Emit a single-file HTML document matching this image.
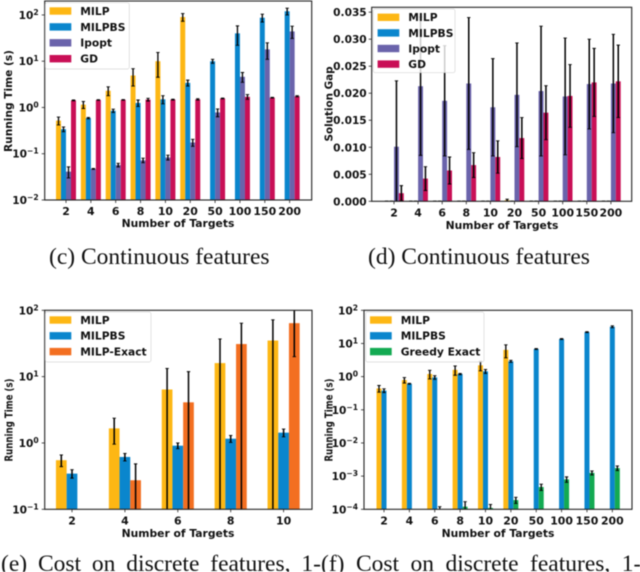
<!DOCTYPE html>
<html>
<head>
<meta charset="utf-8">
<style>
html,body{margin:0;padding:0;background:#fff;width:640px;height:572px;overflow:hidden}
svg{display:block;filter:blur(0.4px)}
.b{font-family:"DejaVu Sans","Liberation Sans",sans-serif;font-weight:bold;fill:#111}
.cap{font-family:"Liberation Serif",serif;font-size:23.5px;fill:#111}
</style>
</head>
<body>
<svg id="fig" xmlns="http://www.w3.org/2000/svg" width="640" height="572" viewBox="0 0 640 572">
<rect width="640" height="572" fill="#fff"/>
<text class="cap" x="49" y="264">(c) Continuous features</text>
<text class="cap" x="368" y="264">(d) Continuous features</text>
<text class="cap" x="1" y="571" word-spacing="5">(e) Cost on discrete features, 1-</text>
<text class="cap" x="321" y="571" word-spacing="5.6">(f) Cost on discrete features, 1-</text>
</svg>
<script>
var targetsLong = ['2','4','6','8','10','20','50','100','150','200'];
var targetsShort = ['2','4','6','8','10'];

var milpC = [0.52,1.15,2.3,4.9,10,90,null,null,null,null];
var milpErrC = [0.1,0.2,0.5,2,5.5,17,null,null,null,null];
var milpbsC = [0.34,0.59,0.85,1.25,1.5,3.4,10,40,87,120];
var milpbsErrC = [0.04,0.02,0.07,0.2,0.3,0.5,1,18,17,20];
var ipoptC = [0.041,0.047,0.057,0.072,0.083,0.175,0.78,4.6,18,44];
var ipoptErrC = [0.011,0.001,0.005,0.008,0.01,0.03,0.15,1.1,7,13];
var gdC = [1.42,1.45,1.46,1.48,1.48,1.5,1.57,1.7,1.63,1.75];
var gdErrC = [0.03,0.02,0.02,0.1,0.03,0.05,0.03,0.2,0.03,0.05];

var milpD = [0.00002,0.00002,0.00002,0.00002,0.00002,0.0002,0.00002,0.00002,0.00002,0.00002];
var milpErrD = [0.00002,0.00002,0.00002,0.00002,0.00002,0.0002,0.00002,0.00002,0.00002,0.00002];
var milpbsD = [0.00002,0.00002,0.00002,0.00002,0.00002,0.00002,0.00002,0.00002,0.00002,0.00002];
var milpbsErrD = [0.00002,0.00002,0.00002,0.00002,0.00002,0.00002,0.00002,0.00002,0.00002,0.00002];
var ipoptD = [0.0101,0.0213,0.0186,0.0218,0.0174,0.0197,0.0204,0.0194,0.0217,0.0218];
var ipoptErrD = [0.0122,0.0128,0.0102,0.0122,0.009,0.0096,0.012,0.0108,0.0083,0.0091];
var gdD = [0.0015,0.0042,0.0057,0.0067,0.0082,0.0117,0.0164,0.0195,0.022,0.0222];
var gdErrD = [0.0014,0.0022,0.0025,0.0023,0.003,0.0038,0.005,0.0058,0.0063,0.0067];

var milpE = [0.55,1.66,6.4,16,35];
var milpErrE = [0.11,0.7,6.9,21,37];
var milpbsE = [0.345,0.615,0.91,1.16,1.43];
var milpbsErrE = [0.05,0.08,0.09,0.14,0.19];
var exactE = [null,0.274,4.1,31,64];
var exactErrE = [null,0.21,7.8,33,44];

var milpF = [0.44,0.79,1.2,1.6,2.2,6.4,null,null,null,null];
var milpErrF = [0.1,0.15,0.35,0.5,0.7,2.7,null,null,null,null];
var milpbsF = [0.38,0.61,0.95,1.2,1.45,2.9,6.8,13.6,22,32];
var milpbsErrF = [0.05,0.02,0.12,0.05,0.2,0.2,0.2,0.4,0.6,2];
var greedyF = [null,null,0.00009,0.00012,0.00011,0.00019,0.00047,0.0008,0.00126,0.00175];
var greedyErrF = [null,null,0.00003,0.00005,0.00003,0.00004,0.0001,0.00015,0.00017,0.00028];

var decadesC = [-2,-1,0,1,2];
var ticksD = ['0.000','0.005','0.010','0.015','0.020','0.025','0.030','0.035'];
var decadesE = [-1,0,1,2];
var decadesF = [-4,-3,-2,-1,0,1,2];

var YELLOW = '#fdb714', BLUE = '#0a86cd', PURPLE = '#6a63ab', RED = '#c90f56', ORANGE = '#f36f21', GREEN = '#13aa52';
var fig = document.getElementById('fig');
var NS = 'http://www.w3.org/2000/svg';

function mk(tag, parent) {
  var el = document.createElementNS(NS, tag);
  parent.appendChild(el);
  return el;
}
function yScale(c, v) {
  if (c.log) {
    return c.bottom - (Math.log10(v) - Math.log10(c.dmin)) / (Math.log10(c.dmax) - Math.log10(c.dmin)) * (c.bottom - c.top);
  }
  return c.bottom - (v - c.dmin) / (c.dmax - c.dmin) * (c.bottom - c.top);
}
function xScale(c, i) {
  return c.x0 + i * c.step;
}
function line(g, x1, y1, x2, y2, color, w) {
  var l = mk('line', g);
  l.setAttribute('x1', x1);
  l.setAttribute('y1', y1);
  l.setAttribute('x2', x2);
  l.setAttribute('y2', y2);
  l.setAttribute('stroke', color);
  l.setAttribute('stroke-width', w);
  return l;
}
function drawChart(c) {
  var root = mk('g', fig);
  
  
  var clip = mk('clipPath', root);
  clip.setAttribute('id', 'clip-' + c.id);
  var cr = mk('rect', clip);
  cr.setAttribute('x', c.left);
  cr.setAttribute('y', c.top);
  cr.setAttribute('width', c.right - c.left);
  cr.setAttribute('height', c.bottom - c.top);

  var plot = mk('g', root);
  plot.setAttribute('clip-path', 'url(#clip-' + c.id + ')');
  var n = c.series.length;
  c.series.forEach(function (s, si) {
    var offset = (si - (n - 1) / 2) * c.barW;
    s.values.forEach(function (v, i) {
      if (v === null) return;
      var cx = xScale(c, i) + offset;
      var y = yScale(c, v);
      var bar = mk('rect', plot);
      
      
      bar.setAttribute('x', cx - c.barW / 2);
      bar.setAttribute('y', y);
      bar.setAttribute('width', c.barW);
      bar.setAttribute('height', Math.max(0, c.bottom - y));
      bar.setAttribute('fill', s.color);
    });
  });
  c.series.forEach(function (s, si) {
    var offset = (si - (n - 1) / 2) * c.barW;
    s.values.forEach(function (v, i) {
      if (v === null) return;
      var e = s.errs[i];
      var cx = xScale(c, i) + offset;
      var lo = v - e;
      var yLo = (c.log && lo <= 0) ? c.bottom + 5 : yScale(c, Math.max(lo, c.log ? 1e-12 : -1));
      var yHi = yScale(c, v + e);
      var g = mk('g', plot);
      
      
      line(g, cx, yLo, cx, yHi, '#000', c.errW);
      line(g, cx - 1.7, yHi, cx + 1.7, yHi, '#000', 0.9);
      line(g, cx - 1.7, yLo, cx + 1.7, yLo, '#000', 0.9);
    });
  });

  var axes = mk('g', root);
  
  
  var frame = mk('rect', axes);
  
  
  frame.setAttribute('x', c.left);
  frame.setAttribute('y', c.top);
  frame.setAttribute('width', c.right - c.left);
  frame.setAttribute('height', c.bottom - c.top);
  frame.setAttribute('fill', 'none');
  frame.setAttribute('stroke', '#222');
  frame.setAttribute('stroke-width', '1.1');

  c.labels.forEach(function (lab, i) {
    var x = xScale(c, i);
    line(axes, x, c.bottom, x, c.bottom + 3, '#222', 0.8);
    var t = mk('text', axes);
    
    
    t.setAttribute('class', 'b');
    t.setAttribute('x', x);
    t.setAttribute('y', c.bottom + 15);
    t.setAttribute('text-anchor', 'middle');
    t.setAttribute('font-size', '10.9');
    t.textContent = lab;
  });
  c.yTicks.forEach(function (tk) {
    var v = c.log ? Math.pow(10, tk) : parseFloat(tk);
    var y = yScale(c, v);
    line(axes, c.left - 3, y, c.left, y, '#222', 0.8);
    var t = mk('text', axes);
    
    
    t.setAttribute('class', 'b');
    t.setAttribute('x', c.left - (c.log ? 6 : 5));
    t.setAttribute('y', y + 4);
    t.setAttribute('text-anchor', 'end');
    t.setAttribute('font-size', '10.6');
    if (c.log) {
      t.appendChild(document.createTextNode('10'));
      var sup = mk('tspan', t);
      sup.setAttribute('dy', '-4');
      sup.setAttribute('font-size', '7.6');
      sup.textContent = (tk < 0 ? '\u2212' : '') + Math.abs(tk);
    } else {
      t.textContent = tk;
    }
  });

  var xl = mk('text', axes);
  
  
  xl.setAttribute('class', 'b');
  xl.setAttribute('x', c.xTitleX);
  xl.setAttribute('y', c.xTitleY);
  xl.setAttribute('text-anchor', 'middle');
  xl.setAttribute('font-size', '10.75');
  xl.textContent = 'Number of Targets';

  var yl = mk('text', axes);
  
  
  yl.setAttribute('class', 'b');
  yl.setAttribute('text-anchor', 'middle');
  yl.setAttribute('font-size', c.yTitleSize);
  yl.setAttribute('textLength', c.yTitleLen);
  yl.setAttribute('lengthAdjust', 'spacingAndGlyphs');
  yl.setAttribute('transform', 'translate(' + c.yTitleX + ',' + c.yTitleY + ') rotate(-90)');
  yl.textContent = c.yTitle;

  var leg = mk('g', root);
  
  
  var box = mk('rect', leg);
  
  
  box.setAttribute('x', c.legX);
  box.setAttribute('y', c.legY);
  box.setAttribute('width', c.legW);
  box.setAttribute('height', c.legH);
  box.setAttribute('rx', '2');
  box.setAttribute('fill', '#fff');
  box.setAttribute('fill-opacity', '0.8');
  box.setAttribute('stroke', '#ccc');
  box.setAttribute('stroke-opacity', '0.8');
  box.setAttribute('stroke-width', '0.7');
  c.series.forEach(function (s, si) {
    var cy = c.legRow0 + si * c.legRowStep;
    var p = mk('rect', leg);
    
    
    p.setAttribute('x', c.legX + 4.3);
    p.setAttribute('y', cy - 3.7);
    p.setAttribute('width', 21.7);
    p.setAttribute('height', 7.4);
    p.setAttribute('fill', s.color);
    var t = mk('text', leg);
    
    
    t.setAttribute('class', 'b');
    t.setAttribute('x', c.legX + 35);
    t.setAttribute('y', cy + 3.9);
    t.setAttribute('font-size', '10.7');
    t.textContent = s.name;
  });
}

drawChart({
  id: 'c', log: true, dmin: 0.01, dmax: 200, left: 44.7, right: 311.7, top: 1, bottom: 200,
  x0: 66, step: 24.85, barW: 5, errW: 1.3, labels: targetsLong, yTicks: decadesC,
  xTitleX: 178, xTitleY: 227, yTitle: 'Running Time (s)', yTitleSize: 10.6, yTitleLen: 102, yTitleX: 12, yTitleY: 101,
  legX: 45.3, legY: 2.7, legW: 84, legH: 66.3, legRow0: 11, legRowStep: 15.9,
  series: [
    { key: 'milp', name: 'MILP', color: YELLOW, values: milpC, errs: milpErrC },
    { key: 'milpbs', name: 'MILPBS', color: BLUE, values: milpbsC, errs: milpbsErrC },
    { key: 'ipopt', name: 'Ipopt', color: PURPLE, values: ipoptC, errs: ipoptErrC },
    { key: 'gd', name: 'GD', color: RED, values: gdC, errs: gdErrC }
  ]
});
drawChart({
  id: 'd', log: false, dmin: 0, dmax: 0.0359, left: 371.7, right: 631.7, top: 7.3, bottom: 201.3,
  x0: 394, step: 24.1, barW: 4.9, errW: 1.5, labels: targetsLong, yTicks: ticksD,
  xTitleX: 502, xTitleY: 229, yTitle: 'Solution Gap', yTitleSize: 10.4, yTitleLen: 75, yTitleX: 332.5, yTitleY: 104,
  legX: 373.3, legY: 9, legW: 81.7, legH: 63.7, legRow0: 17.3, legRowStep: 15.6,
  series: [
    { key: 'milp', name: 'MILP', color: YELLOW, values: milpD, errs: milpErrD },
    { key: 'milpbs', name: 'MILPBS', color: BLUE, values: milpbsD, errs: milpbsErrD },
    { key: 'ipopt', name: 'Ipopt', color: PURPLE, values: ipoptD, errs: ipoptErrD },
    { key: 'gd', name: 'GD', color: RED, values: gdD, errs: gdErrD }
  ]
});
drawChart({
  id: 'e', log: true, dmin: 0.1, dmax: 100, left: 44.7, right: 312, top: 310.3, bottom: 509.3,
  x0: 72, step: 52.9, barW: 10.7, errW: 1.5, labels: targetsShort, yTicks: decadesE,
  xTitleX: 178, xTitleY: 537, yTitle: 'Running Time (s)', yTitleSize: 10.4, yTitleLen: 83, yTitleX: 12.5, yTitleY: 420,
  legX: 45.3, legY: 312, legW: 105.7, legH: 50, legRow0: 320, legRowStep: 15.8,
  series: [
    { key: 'milp', name: 'MILP', color: YELLOW, values: milpE, errs: milpErrE },
    { key: 'milpbs', name: 'MILPBS', color: BLUE, values: milpbsE, errs: milpbsErrE },
    { key: 'exact', name: 'MILP-Exact', color: ORANGE, values: exactE, errs: exactErrE }
  ]
});
drawChart({
  id: 'f', log: true, dmin: 0.0001, dmax: 100, left: 364, right: 632, top: 310.3, bottom: 509.3,
  x0: 384, step: 25.37, barW: 5, errW: 1.3, labels: targetsLong, yTicks: decadesF,
  xTitleX: 498, xTitleY: 537, yTitle: 'Running Time (s)', yTitleSize: 10.4, yTitleLen: 83, yTitleX: 332.5, yTitleY: 420,
  legX: 365.7, legY: 312, legW: 118.3, legH: 50, legRow0: 320, legRowStep: 15.8,
  series: [
    { key: 'milp', name: 'MILP', color: YELLOW, values: milpF, errs: milpErrF },
    { key: 'milpbs', name: 'MILPBS', color: BLUE, values: milpbsF, errs: milpbsErrF },
    { key: 'greedy', name: 'Greedy Exact', color: GREEN, values: greedyF, errs: greedyErrF }
  ]
});
</script>
</body>
</html>
